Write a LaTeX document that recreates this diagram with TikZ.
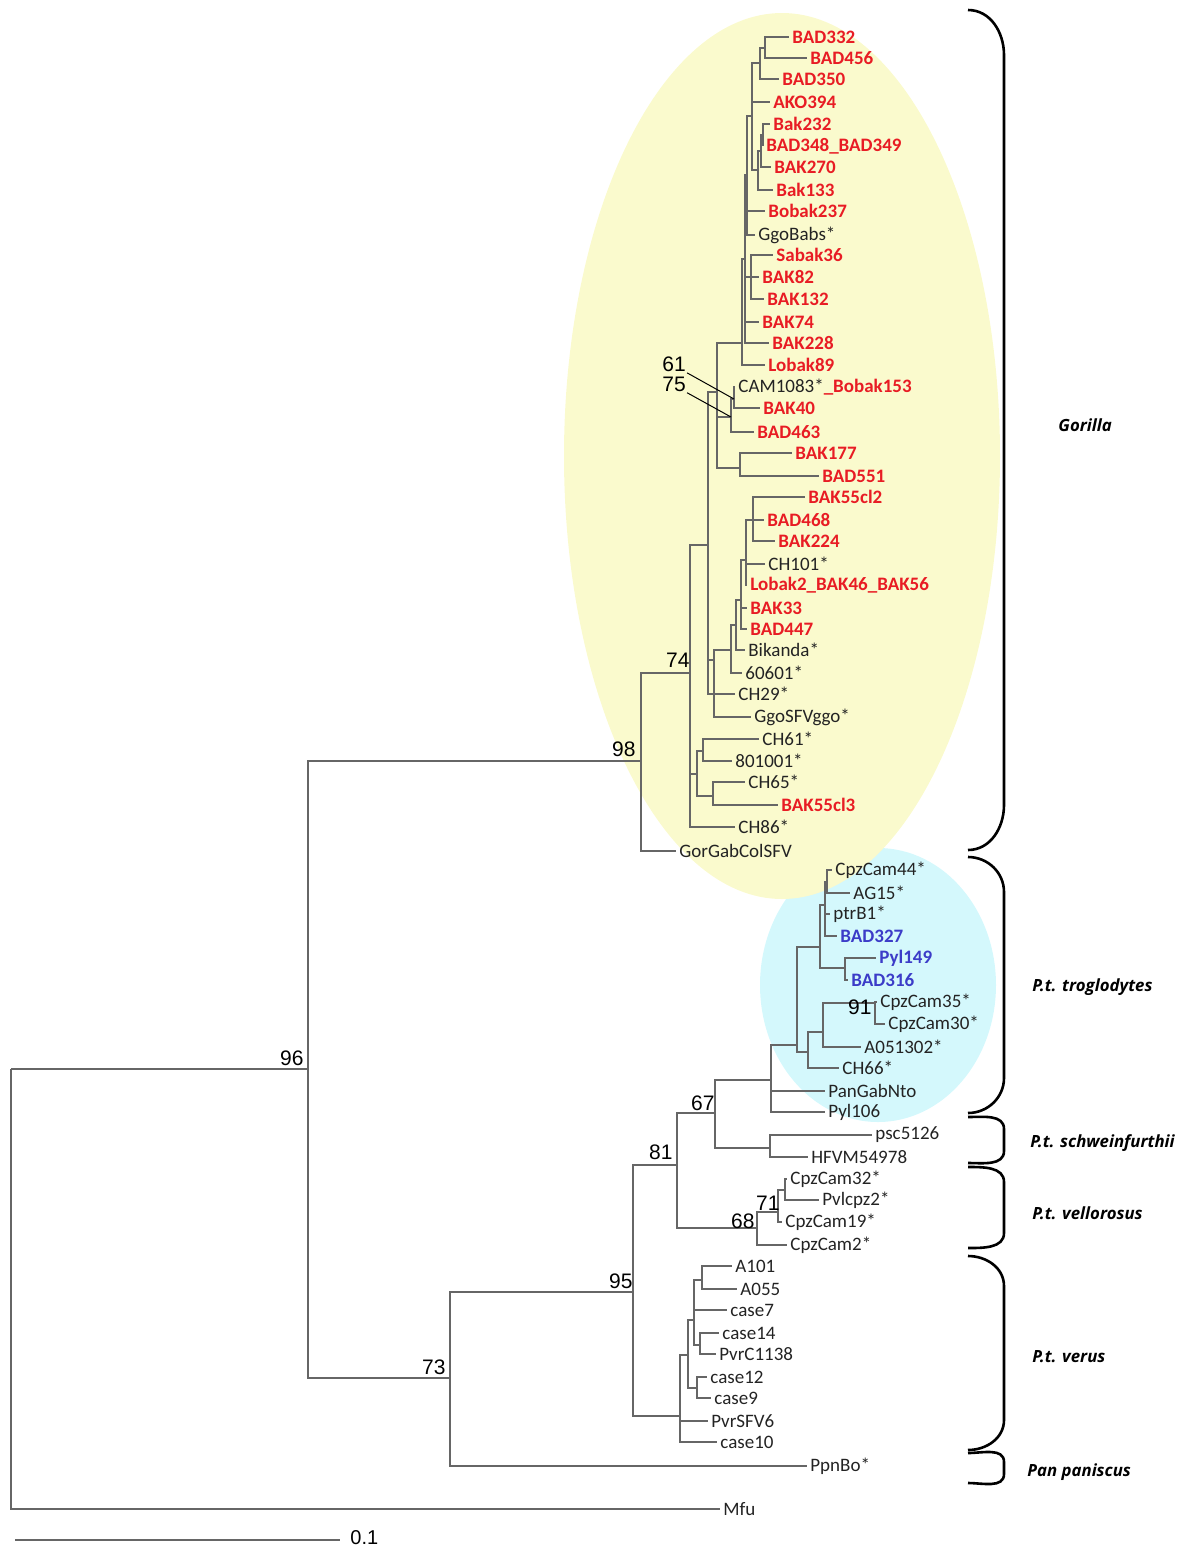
\documentclass[tikz,border=0pt]{standalone}
\usepackage{fontspec}
\setmainfont{Carlito}
\newfontfamily\numfont{Liberation Sans}
\newfontfamily\cladefont{Open Sans}
\definecolor{gred}{RGB}{232,28,36}
\definecolor{pblue}{RGB}{60,60,200}
\definecolor{gyellow}{RGB}{250,250,205}
\definecolor{pcyan}{RGB}{212,248,252}
\definecolor{lbl}{RGB}{35,35,35}
\begin{document}
\begin{tikzpicture}[x=0.5pt, y=-0.5pt]
    \tikzstyle{branch}=[draw=black!60, line width=0.6pt]
    \tikzstyle{leaf}=[anchor=west, inner sep=1.5pt, text=lbl, font=\fontsize{9.5}{11}\selectfont]
    \tikzstyle{gor}=[leaf, text=gred, font=\fontsize{9.5}{11}\selectfont\bfseries]
    \tikzstyle{ptt}=[gor, text=pblue]
    \tikzstyle{boot}=[anchor=south east, inner sep=0.5pt, font=\numfont\fontsize{10.5}{12}\selectfont]
    \tikzstyle{pointer}=[draw=black, line width=0.5pt]
    \tikzstyle{clade}=[draw=black, line width=1.3pt]
    \tikzstyle{cladename}=[anchor=west, inner sep=0pt, font=\cladefont\fontsize{8.4}{10}\selectfont\bfseries\itshape]

    \useasboundingbox (0,0) rectangle (1180,1549);

    % highlighted groups
    \fill[pcyan] (878,985) ellipse [x radius=118, y radius=137];
    \fill[gyellow] (782,456) ellipse [x radius=218, y radius=443];

    % internal nodes
    \foreach \nm/\xx/\yy in {root/11/1069, n96/308/1069, n98/641/761, n74/690/673,
        nU/708/545, n717/717/392, ntop/742/343, s2/745/259, t7/747/175, t6/752/116,
        t2/760/63, t1/765/48, t5/758/170, t4/761/151, t3/763/135, s1/751/277,
        nC/731/417, nC1/734/399, nD/740/468, n715/714/660, nM/731/650, nM2/736/625,
        nM3/741/600, nM4/746/560, nM5/753/520, nL/697/774, nA/703/751, nB/713/796,
        n73/450/1378, n95/633/1292, n81/677/1165, n67/715/1113, n771/771/1080,
        n797/797/1045, n820/820/947, n825/825/905, n827/827/882, n845/845/968,
        n808/808/1052, n823/823/1032, n91/875/1003, npsc/770/1148, n68/757/1228,
        n71/778/1212, n785/785/1190, v0/680/1416, v1/688/1355, v2/694/1320,
        v4/702/1280, v5/700/1345, v3/697/1388}
        \coordinate (\nm) at (\xx,\yy);

    % leaves
    \foreach \nm/\xx/\yy/\st/\tx in {bad332/789/37/gor/BAD332, bad456/807/58/gor/BAD456,
        bad350/779/79/gor/BAD350, ako394/770/102/gor/AKO394, bak232/770/124/gor/Bak232,
        bad348/763/146/gor/BAD348\_BAD349, bak270/771/167/gor/BAK270, bak133/773/190/gor/Bak133,
        bobak237/765/211/gor/Bobak237, ggobabs/755/235/leaf/GgoBabs*, sabak36/773/255/gor/Sabak36,
        bak82/759/277/gor/BAK82, bak132/764/299/gor/BAK132, bak74/759/322/gor/BAK74,
        bak228/769/343/gor/BAK228, lobak89/765/365/gor/Lobak89,
        cam1083/735/387/leaf/{CAM1083*\textcolor{gred}{\bfseries\_Bobak153}},
        bak40/760/408/gor/BAK40, bad463/754/432/gor/BAD463, bak177/792/453/gor/BAK177,
        bad551/819/476/gor/BAD551, bak55cl2/805/497/gor/BAK55cl2, bad468/764/520/gor/BAD468,
        bak224/775/541/gor/BAK224, ch101/765/564/leaf/CH101*,
        lobak2/747/585/gor/Lobak2\_BAK46\_BAK56, bak33/747/608/gor/BAK33,
        bad447/747/629/gor/BAD447, bikanda/745/650/leaf/Bikanda*, g60601/742/673/leaf/60601*,
        ch29/735/694/leaf/CH29*, ggosfv/751/717/leaf/GgoSFVggo*, ch61/759/739/leaf/CH61*,
        g801001/732/761/leaf/801001*, ch65/745/782/leaf/CH65*, bak55cl3/778/805/gor/BAK55cl3,
        ch86/735/827/leaf/CH86*, gorgab/676/851/leaf/GorGabColSFV,
        cpzcam44/832/870/leaf/CpzCam44*, ag15/850/893/leaf/AG15*, ptrb1/830/914/leaf/ptrB1*,
        bad327/837/936/ptt/BAD327, pyl149/876/958/ptt/Pyl149, bad316/848/980/ptt/BAD316,
        cpzcam35/877/1002/leaf/CpzCam35*, cpzcam30/885/1024/leaf/CpzCam30*,
        a051302/861/1047/leaf/A051302*, ch66/839/1068/leaf/CH66*, pangab/825/1091/leaf/PanGabNto,
        pyl106/825/1112/leaf/Pyl106, psc5126/872/1135/leaf/psc5126, hfvm/808/1157/leaf/HFVM54978,
        cpzcam32/787/1179/leaf/CpzCam32*, pvlcpz2/819/1200/leaf/Pvlcpz2*,
        cpzcam19/782/1222/leaf/CpzCam19*, cpzcam2/787/1245/leaf/CpzCam2*,
        a101/732/1266/leaf/A101, a055/737/1289/leaf/A055, case7/727/1310/leaf/case7,
        case14/719/1333/leaf/case14, pvrc1138/716/1354/leaf/PvrC1138, case12/707/1377/leaf/case12,
        case9/711/1398/leaf/case9, pvrsfv6/708/1421/leaf/PvrSFV6, case10/717/1442/leaf/case10,
        ppnbo/807/1466/leaf/PpnBo*, mfu/720/1509/leaf/Mfu}
        \node[\st] (\nm) at (\xx,\yy) {\tx};

    % branches
    \foreach \a/\b in {root/n96, root/mfu, n96/n98, n96/n73, n98/n74, n98/gorgab,
        n74/nU, n74/nL, n74/ch86, nU/n717, nU/n715, nU/ch29, n717/ntop, n717/nC, n717/nD,
        ntop/s2, ntop/lobak89, s2/t7, s2/s1, s2/bak74, s2/bak228,
        t7/t6, t7/bobak237, t7/ggobabs, t6/t2, t6/ako394, t6/t5, t2/t1, t2/bad350,
        t1/bad332, t1/bad456, t5/t4, t5/bak133, t4/t3, t4/bak270, t3/bak232, t3/bad348,
        s1/sabak36, s1/bak82, s1/bak132, nC/nC1, nC/bad463, nC1/cam1083, nC1/bak40,
        nD/bak177, nD/bad551, n715/nM, n715/ggosfv, nM/nM2, nM/g60601, nM2/nM3, nM2/bikanda,
        nM3/nM4, nM3/bak33, nM3/bad447, nM4/nM5, nM4/ch101, nM4/lobak2,
        nM5/bak55cl2, nM5/bad468, nM5/bak224, nL/nA, nL/nB, nA/ch61, nA/g801001,
        nB/ch65, nB/bak55cl3,
        n73/n95, n73/ppnbo, n95/n81, n95/v0, n81/n67, n81/n68, n67/n771, n67/npsc,
        n771/n797, n771/pangab, n771/pyl106, n797/n820, n797/n808, n820/n825, n820/n845,
        n825/n827, n825/ptrb1, n825/bad327, n827/cpzcam44, n827/ag15, n845/pyl149, n845/bad316,
        n808/n823, n808/ch66, n823/n91, n823/a051302, n91/cpzcam35, n91/cpzcam30,
        npsc/psc5126, npsc/hfvm, n68/n71, n68/cpzcam2, n71/n785, n71/cpzcam19,
        n785/cpzcam32, n785/pvlcpz2, v0/v1, v0/pvrsfv6, v0/case10, v1/v2, v1/v3,
        v2/v4, v2/case7, v2/v5, v4/a101, v4/a055, v5/case14, v5/pvrc1138, v3/case12, v3/case9}
        \draw[branch] (\a) |- (\b);

    % bootstrap values
    \node[boot] (b96) at (305,1067) {96};
    \node[boot] (b73) at (447,1376) {73};
    \node[boot] (b98) at (637,758) {98};
    \node[boot] (b74) at (691,669) {74};
    \node[boot] (b91) at (873,1016) {91};
    \node[boot] (b67) at (716,1112) {67};
    \node[boot] (b81) at (674,1161) {81};
    \node[boot] (b71) at (781,1212) {71};
    \node[boot] (b68) at (756,1230) {68};
    \node[boot] (b95) at (634,1290) {95};
    \node[boot, anchor=center] (b61) at (674,364) {61};
    \node[boot, anchor=center] (b75) at (674,384) {75};
    \draw[pointer] (b61.south east) -- (nC1);
    \draw[pointer] (b75.south east) -- (nC);

    % scale bar
    \coordinate (sb0) at (15,1540);
    \coordinate (sb1) at (340,1540);
    \draw[branch] (sb0) -- (sb1);
    \node[anchor=west, inner sep=0.5pt, font=\numfont\fontsize{10}{12}\selectfont] (sbl) at (349,1538) {0.1};

    % clade brackets
    \foreach \ya/\yb/\r in {10/850/45, 857/1113/35, 1117/1163/12, 1167/1248/15, 1256/1450/30, 1453/1483/9}
        \draw[clade] (968,\ya) to[out=0,in=90] (1004,\ya+\r) -- (1004,\yb-\r) to[out=-90,in=0] (968,\yb);
    \node[cladename] (gorilla) at (1058,425) {Gorilla};
    \node[cladename] (trog) at (1032,987) {P.t. troglodytes};
    \node[cladename] (schw) at (1030,1143) {P.t. schweinfurthii};
    \node[cladename] (vell) at (1032,1213) {P.t. vellorosus};
    \node[cladename] (verus) at (1032,1357) {P.t. verus};
    \node[cladename] (panisc) at (1027,1472) {Pan paniscus};
\end{tikzpicture}
\end{document}
